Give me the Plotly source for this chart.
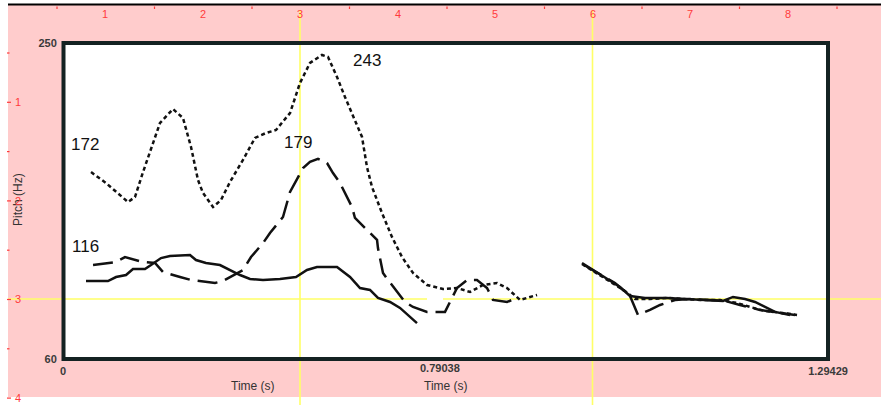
import plotly.graph_objects as go

# ---------------- data (time in s, pitch in Hz) ----------------
dotted_t = [0.0474, 0.0728, 0.1100, 0.1218, 0.1354, 0.1523, 0.1641, 0.1861, 0.2030, 0.2166,
            0.2284, 0.2369, 0.2538, 0.2673, 0.2825, 0.3045, 0.3248, 0.3435, 0.3604, 0.3841,
            0.4010, 0.4179, 0.4382, 0.4484, 0.4636, 0.4771, 0.4940, 0.5059, 0.5143, 0.5228,
            0.5397, 0.5566, 0.5736, 0.5922, 0.6159, 0.6429, 0.6666, 0.6886, 0.7106, 0.7343,
            0.7512, 0.7597, 0.7732, 0.7850, 0.8020, None,
            0.8781, 0.9001, 0.9255, 0.9508, 0.9678, 0.9931, 1.0219, 1.0524, 1.0777, 1.1116,
            1.1403, 1.1623, 1.1877, 1.2165, 1.2419]
dotted_hz = [172.4, 165.8, 154.4, 157.4, 172.4, 189.9, 201.9, 210.3, 204.9, 187.5,
             167.6, 159.8, 151.4, 155.6, 166.4, 179.7, 192.9, 195.9, 197.7, 207.9,
             226.0, 238.0, 242.8, 241.6, 229.6, 217.5, 203.7, 193.5, 175.4, 163.4,
             147.8, 133.4, 121.3, 111.7, 104.5, 102.1, 102.7, 100.3, 104.5, 105.7,
             102.7, 99.7, 95.5, 96.7, 98.5, None,
             117.1, 112.3, 106.9, 100.9, 96.1, 96.1, 96.7, 96.1, 95.5, 95.5,
             93.7, 91.3, 88.9, 87.7, 86.5]

dashed_t = [0.0508, 0.0897, 0.1049, 0.1354, 0.1557, 0.1692, 0.1980, 0.2166, 0.2572, 0.2707,
            0.3045, 0.3181, 0.3384, 0.3502, 0.3722, 0.3841, 0.4061, 0.4179, 0.4314, 0.4467,
            0.4568, 0.4687, 0.4890, 0.4940, 0.5313, 0.5329, 0.5414, 0.5499, 0.5786, 0.5922,
            0.6159, 0.6345, 0.6463, 0.6666, 0.6835, 0.7004, 0.7174, 0.7275, 0.7512, 0.7681, None,
            0.8815, 0.9085, 0.9339, 0.9593, 0.9728, 0.9931, 1.0101, 1.0354, 1.0608, 1.0947,
            1.1200, 1.1454, 1.1793, 1.2131, 1.2385]
dashed_hz = [116.5, 118.3, 121.3, 118.3, 117.7, 112.3, 109.3, 107.5, 105.7, 106.9,
             113.5, 121.3, 129.7, 135.8, 145.4, 160.4, 174.8, 178.5, 180.3, 177.8,
             171.8, 165.8, 151.4, 144.8, 131.6, 126.7, 111.7, 107.5, 94.3, 91.3,
             88.3, 88.3, 88.3, 102.7, 107.5, 107.5, 102.7, 95.5, 94.3, 96.7, None,
             116.5, 111.1, 105.7, 97.9, 86.5, 89.5, 92.5, 95.5, 96.1, 95.5,
             94.9, 92.5, 89.5, 87.7, 86.5]

solid_t = [0.0389, 0.0761, 0.0897, 0.1066, 0.1184, 0.1387, 0.1489, 0.1658, 0.1810, 0.2149,
           0.2250, 0.2419, 0.2656, 0.2825, 0.2995, 0.3164, 0.3384, 0.3671, 0.3942, 0.4128,
           0.4297, 0.4636, 0.4856, 0.5025, 0.5194, 0.5329, 0.5533, 0.5702, 0.5989, None,
           0.8781, 0.8967, 0.9255, 0.9424, 0.9593, 0.9847, 1.0219, 1.0490, 1.0777, 1.1167,
           1.1336, 1.1539, 1.1708, 1.2046, 1.2300]
solid_hz = [106.9, 106.9, 109.3, 110.5, 114.1, 114.1, 116.5, 120.7, 121.9, 122.5,
            119.5, 117.7, 116.5, 113.5, 110.5, 108.1, 107.5, 108.1, 109.3, 113.5,
            115.3, 115.3, 109.3, 102.7, 101.5, 96.7, 94.3, 90.7, 81.6, None,
            117.7, 113.5, 107.5, 103.3, 97.9, 96.7, 96.7, 96.1, 95.5, 94.9,
            97.3, 96.1, 94.3, 88.3, 86.5]

peak_labels = ["172", "116", "179", "243"]
y_ticks = [60, 250]
x_ticks = [0, 1.29429]
x_tick_text = ["0", "1.29429"]
mid_time_label = "0.79038"
ruler_top = ["1", "2", "3", "4", "5", "6", "7", "8"]
ruler_left = ["1", "2", "3", "4"]

# ---------------- layout helpers (pixel -> paper) ----------------
W, H = 881, 405
L, R, T, B = 63, 828, 43, 359


def px(x):
    return (x - L) / (R - L)


def py(y):
    return (B - y) / (B - T)


PINK = "#FFCCCC"
YEL = "#FFFF66"
RED = "#FF3B3B"

fig = go.Figure()
line_col = "#111111"
fig.add_trace(go.Scatter(x=dotted_t, y=dotted_hz, mode="lines", connectgaps=False,
                         line=dict(color=line_col, width=2.5, dash="4px,3px"),
                         hoverinfo="skip", showlegend=False))
fig.add_trace(go.Scatter(x=dashed_t, y=dashed_hz, mode="lines", connectgaps=False,
                         line=dict(color=line_col, width=2.5, dash="20px,8px"),
                         hoverinfo="skip", showlegend=False))
fig.add_trace(go.Scatter(x=solid_t, y=solid_hz, mode="lines", connectgaps=False,
                         line=dict(color=line_col, width=2.5),
                         hoverinfo="skip", showlegend=False))

shapes = []
# pink ruler background
shapes.append(dict(type="rect", xref="paper", yref="paper", layer="below",
                   x0=px(8), x1=px(W), y0=py(397), y1=py(5),
                   fillcolor=PINK, line=dict(width=0)))
# white plot area
shapes.append(dict(type="rect", xref="paper", yref="paper", layer="below",
                   x0=px(L), x1=px(R), y0=py(B), y1=py(T),
                   fillcolor="white", line=dict(width=0)))
# top black line
shapes.append(dict(type="line", xref="paper", yref="paper", layer="below",
                   x0=px(8), x1=px(W), y0=py(4.5), y1=py(4.5),
                   line=dict(color="#000000", width=2)))
# yellow cursor lines
for (x0, y0, x1, y1) in [(300, 10, 300, 405), (592.5, 10, 592.5, 405),
                         (8, 299, 427, 299), (443, 299, W, 299)]:
    shapes.append(dict(type="line", xref="paper", yref="paper", layer="below",
                       x0=px(x0), x1=px(x1), y0=py(y0), y1=py(y1),
                       line=dict(color=YEL, width=1.6)))
# ruler ticks (top)
for i in range(9):
    xm = 57 + 97.5 * i
    shapes.append(dict(type="line", xref="paper", yref="paper", layer="below",
                       x0=px(xm), x1=px(xm), y0=py(6.5), y1=py(9),
                       line=dict(color=RED, width=1.2)))
# ruler ticks (left)
for i in range(8):
    ym = 53 + 49.3 * i
    major = (i % 2 == 1)
    shapes.append(dict(type="line", xref="paper", yref="paper", layer="below",
                       x0=px(7), x1=px(11 if major else 9.5), y0=py(ym), y1=py(ym),
                       line=dict(color=RED, width=1.2)))
# thick plot border
shapes.append(dict(type="rect", xref="paper", yref="paper", layer="above",
                   x0=px(63.5), x1=px(R), y0=py(B), y1=py(T),
                   line=dict(color="#142222", width=4)))

ann = []
# peak value labels
for txt, (ax, ay) in zip(peak_labels, [(85, 144), (85, 246), (298, 142), (367, 61)]):
    ann.append(dict(text=txt, xref="paper", yref="paper", x=px(ax), y=py(ay),
                    showarrow=False, xanchor="center", yanchor="middle",
                    font=dict(family="Arial, Liberation Sans", size=17, color="#111111")))
# ruler labels
for i, t in enumerate(ruler_top):
    ann.append(dict(text=t, xref="paper", yref="paper", x=px(105 + 97.5 * i), y=py(14),
                    showarrow=False, xanchor="center", yanchor="middle",
                    font=dict(family="Arial, Liberation Sans", size=11, color=RED)))
# axis titles / extra labels
ann.append(dict(text="Pitch (Hz)", xref="paper", yref="paper", x=px(18), y=py(200),
                showarrow=False, textangle=-90, xanchor="center", yanchor="middle",
                font=dict(family="Arial, Liberation Sans", size=12, color="#333333")))
for i, t in enumerate(ruler_left):
    ann.append(dict(text=t, xref="paper", yref="paper", x=px(17.5), y=py(102 + 98.6 * i),
                    showarrow=False, xanchor="center", yanchor="middle",
                    font=dict(family="Arial, Liberation Sans", size=11, color=RED)))
ann.append(dict(text=mid_time_label, xref="paper", yref="paper", x=px(440), y=py(368),
                showarrow=False, xanchor="center", yanchor="middle",
                font=dict(family="Arial, Liberation Sans", size=11, color="#3a3a3a", weight="bold")))
for xx in (253, 446):
    ann.append(dict(text="Time (s)", xref="paper", yref="paper", x=px(xx), y=py(386),
                    showarrow=False, xanchor="center", yanchor="middle",
                    font=dict(family="Arial, Liberation Sans", size=12, color="#333333")))

fig.update_layout(
    width=W, height=H,
    margin=dict(l=L, r=W - R, t=T, b=H - B, pad=0),
    paper_bgcolor="white",
    plot_bgcolor="rgba(0,0,0,0)",
    shapes=shapes,
    annotations=ann,
    showlegend=False,
    xaxis=dict(range=[0, 1.29429], showgrid=False, zeroline=False, showline=False,
               tickmode="array", tickvals=x_ticks, ticktext=x_tick_text,
               ticks="outside", ticklen=2, tickcolor="rgba(0,0,0,0)",
               tickfont=dict(family="Arial, Liberation Sans", size=11, color="#3a3a3a", weight="bold")),
    yaxis=dict(range=[60, 250], showgrid=False, zeroline=False, showline=False,
               tickmode="array", tickvals=y_ticks,
               ticks="outside", ticklen=3, tickcolor="rgba(0,0,0,0)",
               tickfont=dict(family="Arial, Liberation Sans", size=11, color="#3a3a3a", weight="bold")),
)

fig.write_html("out.html", config={"displayModeBar": False},
               post_script="document.body.style.margin='0px';document.body.style.overflow='hidden';")
